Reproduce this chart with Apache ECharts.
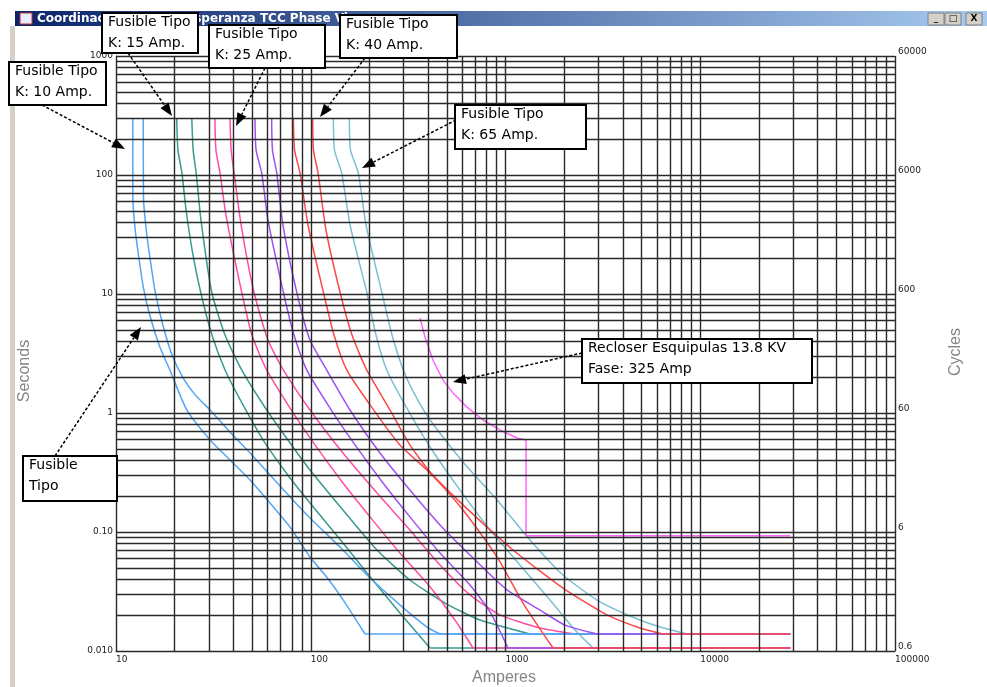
<!DOCTYPE html>
<html><head><meta charset="utf-8">
<script src="https://cdn.jsdelivr.net/npm/echarts@6/dist/echarts.min.js"></script>
<style>html,body{margin:0;padding:0;background:#fff;}#c{width:987px;height:687px;}</style>
</head><body><div id="c"></div>
<script>
// ---- tick labels ----
const ampTicks = ['10','100','1000','10000','100000'];
const secTicks = ['0.010','0.10','1','10','100','1000'];
const cycTicks = ['0.6','6','60','600','6000','60000'];

// ---- curve data (Amperes, Seconds) ----
const k6MeltA  = [12.2,12.2,12.5,13.0,13.8,15.0,16.8,18.9,23.1,30.4,38.5,48.8,61.8,78.3,99.1,120.7,146.9,190,29000];
const k6MeltS  = [300,65,36.6,22.1,11.5,6.4,3.59,2.3,1.06,0.593,0.403,0.274,0.175,0.110,0.0617,0.0419,0.0268,0.0139,0.0139];
const k6ClearA = [13.8,13.84,14.3,15.0,15.9,17.4,19.4,22.1,25.5,30.4,38.5,48.8,61.8,78.3,99.1,146.4,194.5,287,395,461,29000];
const k6ClearS = [300,65,34.5,19.3,10.4,5.49,3.07,1.97,1.42,1.06,0.692,0.461,0.301,0.197,0.131,0.0706,0.0435,0.0244,0.0159,0.0139,0.0139];

const k10MeltA  = [20.5,20.8,21.8,22.9,24.6,27.2,31.1,36.3,44.9,58.2,78.3,99.1,146.4,194.5,287,410,29000];
const k10MeltS  = [300,162,104,50.8,23.4,10.4,4.52,2.3,1.17,0.56,0.284,0.175,0.0808,0.0452,0.0209,0.0106,0.0106];
const k10ClearA = [24.5,24.9,25.8,27.3,31.0,36.3,44.2,59.4,78.3,99.1,146.4,218.9,323,489,740,1336,29000];
const k10ClearS = [300,162,104,41.9,10.4,4.52,2.3,1.06,0.56,0.332,0.153,0.0706,0.0395,0.0253,0.0182,0.0139,0.0139];

const k15MeltA  = [32.2,32.6,34.2,36.7,44.2,49.9,59.4,78.3,105.2,146.4,201.5,287,410,550,681,29000];
const k15MeltS  = [300,162,104,46.1,10.4,4.52,2.3,1.1,0.539,0.258,0.134,0.0666,0.0345,0.0182,0.0106,0.0106];
const k15ClearA = [38.5,39,40.4,43.9,51.1,60.3,72.3,99.1,146.4,218.9,323,461,657,937,1504,2275,29000];
const k15ClearS = [300,162,104,38,10.4,4.1,2.3,1.06,0.461,0.213,0.104,0.0528,0.0296,0.0201,0.0156,0.0139,0.0139];

const k25MeltA  = [51.7,52.4,56,60.3,72.3,82,95.3,125.6,168.8,235,323,461,657,833,1030,29000];
const k25MeltS  = [300,162,104,41.9,10.4,4.52,2.3,1.1,0.539,0.258,0.134,0.0666,0.0359,0.0213,0.0106,0.0106];
const k25ClearA = [63,63.6,66.9,72,84.7,99.1,120.7,159.1,226.8,323,461,657,1018,1504,2021,2951,29000];
const k25ClearS = [300,162,104,38,10.4,4.1,2.3,1.06,0.461,0.225,0.1145,0.0641,0.0326,0.0221,0.0165,0.0139,0.0139];

const k40MeltA  = [81.4,82.6,88.1,96.8,116,131.7,153,201.5,287,410,605,905,1230,1754,29000];
const k40MeltS  = [300,162,104,38,10.4,4.52,2.3,1.17,0.539,0.313,0.153,0.0617,0.0253,0.0106,0.0106];
const k40ClearA = [102.3,103.3,109,119.7,141.3,162.9,193.8,255.3,323,410,605,1093,1974,3320,4905,6438,29000];
const k40ClearS = [300,162,104,34.5,10.4,4.52,2.3,1.06,0.539,0.319,0.169,0.0706,0.0338,0.0201,0.0156,0.0139,0.0139];

const k65MeltA  = [130.6,132.4,144.2,159.1,193.8,216.3,245.5,304.8,410,584,833,1187,1692,2275,2813,29000];
const k65MeltS  = [300,162,104,38,10.4,4.52,2.3,1.17,0.518,0.225,0.104,0.0528,0.0268,0.015,0.0106,0.0106];
const k65ClearA = [157.8,160,175.5,192.2,231.4,261.4,298.8,343,410,605,905,1336,1974,2951,4359,6214,8551,29000];
const k65ClearS = [300,162,104,38,10.4,4.52,2.3,1.42,0.873,0.388,0.186,0.0857,0.0435,0.0268,0.0197,0.0159,0.0139,0.0139];

const recloserA = [364,386,424,478,538,634,767,937,1146,1275,1275,29000];
const recloserS = [6.29,4.35,2.79,1.89,1.47,1.12,0.873,0.72,0.617,0.593,0.0931,0.0931];

// ---- styles ----
const C_BLUE='#55a5f5', C_TEAL='#3a9a8e', C_PINK='#ff4fa3', C_PURPLE='#a050f5', C_RED='#ff4848', C_LTEAL='#7cc0d0', C_REC='#ff66ff';

function zip(a,s){ return a.map((v,i)=>[v,s[i]]); }
function line(name,data,color,sm){
  return {name, type:'line', data, showSymbol:false, symbol:'none', smooth:sm,
    lineStyle:{color, width:1.5}, itemStyle:{color}, z:3, silent:true, animation:false};
}
// fuse curve: smooth body + straight horizontal tail (last two points)
function fuse(name,a,s,color){
  const pts = zip(a,s);
  return [line(name,pts.slice(0,-1),color,0.2), line(name+' tail',pts.slice(-2),color,false)];
}

// grid line positions (log decades with 1..9 subdivisions)
const gridX=[], gridY=[];
for(let e=1;e<=4;e++) for(let d=1;d<=9;d++) gridX.push(d*Math.pow(10,e));
gridX.push(100000);
for(let e=-2;e<=2;e++) for(let d=1;d<=9;d++) gridY.push(+(d*Math.pow(10,e)).toPrecision(6));
gridY.push(1000);

const gridSeries = {
  type:'line', data:[], silent:true, z:1, animation:false,
  markLine:{ silent:true, symbol:['none','none'], animation:false, label:{show:false},
    emphasis:{disabled:true},
    lineStyle:{color:'#2a2a2a', width:1.4, type:'solid'},
    data: gridX.map(v=>({xAxis:v})).concat(gridY.map(v=>({yAxis:v}))) }
};

const series = [gridSeries].concat(
  fuse('K65 melt',k65MeltA,k65MeltS,C_LTEAL),
  fuse('K65 clear',k65ClearA,k65ClearS,C_LTEAL),
  fuse('K10 melt',k10MeltA,k10MeltS,C_TEAL),
  fuse('K10 clear',k10ClearA,k10ClearS,C_TEAL),
  fuse('K15 melt',k15MeltA,k15MeltS,C_PINK),
  fuse('K15 clear',k15ClearA,k15ClearS,C_PINK),
  fuse('K6 melt',k6MeltA,k6MeltS,C_BLUE),
  fuse('K6 clear',k6ClearA,k6ClearS,C_BLUE),
  fuse('K25 melt',k25MeltA,k25MeltS,C_PURPLE),
  fuse('K25 clear',k25ClearA,k25ClearS,C_PURPLE),
  fuse('K40 melt',k40MeltA,k40MeltS,C_RED),
  fuse('K40 clear',k40ClearA,k40ClearS,C_RED),
  [line('Recloser',zip(recloserA,recloserS),C_REC,false)]
);

// ---- annotations ----
const notes = [
  {box:[9,62,97,43],   lines:['Fusible Tipo','K: 10 Amp.'], from:[42,105], to:[125,149]},
  {box:[102,13,96,40], lines:['Fusible Tipo','K: 15 Amp.'], from:[128,53], to:[172,116]},
  {box:[209,25,116,43],lines:['Fusible Tipo','K: 25 Amp.'], from:[265,68], to:[236,126]},
  {box:[340,15,117,43],lines:['Fusible Tipo','K: 40 Amp.'], from:[365,58], to:[320,117]},
  {box:[455,105,131,44],lines:['Fusible Tipo','K: 65 Amp.'], from:[456,120], to:[362,168]},
  {box:[582,339,230,44],lines:['Recloser Esquipulas 13.8 KV','Fase: 325 Amp'], from:[582,353], to:[453,382]},
  {box:[23,456,94,45], lines:['Fusible','Tipo'], from:[55,456], to:[141,327]}
];

const graphics = [];
// window chrome
graphics.push({type:'rect', shape:{x:10,y:26,width:5,height:661}, style:{fill:'#d4d0c8'}, z:50, silent:true});
graphics.push({type:'rect', shape:{x:15,y:11,width:972,height:15},
  style:{fill:new echarts.graphic.LinearGradient(0,0,1,0,[{offset:0,color:'#0a246a'},{offset:1,color:'#a6caf0'}])}, z:50, silent:true});
graphics.push({type:'rect', shape:{x:20,y:13,width:12,height:11}, style:{fill:'#e8ecff',stroke:'#c03030',lineWidth:1}, z:51, silent:true});
graphics.push({type:'text', x:37, y:19, style:{text:'Coordinacion', font:'bold 12px "DejaVu Sans"', fill:'#fff', verticalAlign:'middle', textVerticalAlign:'middle'}, z:51, silent:true});
graphics.push({type:'text', x:186, y:19, style:{text:'Esperanza TCC Phase View', font:'bold 12px "DejaVu Sans"', fill:'#fff', verticalAlign:'middle', textVerticalAlign:'middle'}, z:51, silent:true});
[[928,'_'],[945,'\u25A1'],[966,'X']].forEach(([bx,g])=>{
  graphics.push({type:'rect', shape:{x:bx,y:13,width:16,height:12}, style:{fill:'#d4d0c8',stroke:'#808080',lineWidth:1}, z:51, silent:true});
  graphics.push({type:'text', x:bx+8, y:19, style:{text:g, font:'bold 9px "DejaVu Sans"', fill:'#000', align:'center', verticalAlign:'middle', textAlign:'center', textVerticalAlign:'middle'}, z:52, silent:true});
});
// axis titles
graphics.push({type:'text', x:25, y:371, rotation:Math.PI/2, style:{text:'Seconds', font:'16px "Liberation Sans"', fill:'#858585', align:'center', verticalAlign:'middle', textAlign:'center', textVerticalAlign:'middle'}, z:50, silent:true});
graphics.push({type:'text', x:956, y:352, rotation:Math.PI/2, style:{text:'Cycles', font:'16px "Liberation Sans"', fill:'#858585', align:'center', verticalAlign:'middle', textAlign:'center', textVerticalAlign:'middle'}, z:50, silent:true});
graphics.push({type:'text', x:504, y:678, style:{text:'Amperes', font:'16px "Liberation Sans"', fill:'#858585', align:'center', verticalAlign:'middle', textAlign:'center', textVerticalAlign:'middle'}, z:50, silent:true});

notes.forEach(n=>{
  const [x1,y1]=n.from, [x2,y2]=n.to;
  const ang=Math.atan2(y2-y1,x2-x1), L=13, W=5;
  const bx=x2-L*Math.cos(ang), by=y2-L*Math.sin(ang);
  const px=-Math.sin(ang)*W, py=Math.cos(ang)*W;
  graphics.push({type:'line', shape:{x1,y1,x2:bx,y2:by}, style:{stroke:'#000',lineWidth:1.5,lineDash:[3,2]}, z:100, silent:true});
  graphics.push({type:'polygon', shape:{points:[[x2,y2],[bx+px,by+py],[bx-px,by-py]]}, style:{fill:'#000'}, z:100, silent:true});
  const [rx,ry,rw,rh]=n.box;
  graphics.push({type:'rect', shape:{x:rx,y:ry,width:rw,height:rh}, style:{fill:'#fff',stroke:'#000',lineWidth:2}, z:101, silent:true});
  graphics.push({type:'text', x:rx+6, y:ry-1, style:{text:n.lines.join('\n'), font:'14px "DejaVu Sans"', fill:'#000', lineHeight:21, verticalAlign:'top', textVerticalAlign:'top'}, z:102, silent:true});
});

const chart = echarts.init(document.getElementById('c'), null, {renderer:'canvas'});
chart.setOption({
  animation:false,
  backgroundColor:'#ffffff',
  grid:{left:116, right:92, top:56, bottom:36, containLabel:false, outerBoundsMode:'none'},
  xAxis:{type:'log', logBase:10, min:10, max:100000,
    axisLine:{show:true, lineStyle:{color:'#000', width:1}}, axisTick:{show:false},
    splitLine:{show:false}, minorTick:{show:false}, minorSplitLine:{show:false},
    axisLabel:{show:true, showMinLabel:true, showMaxLabel:true, margin:4, align:'left', fontSize:9, color:'#222', fontFamily:'DejaVu Sans',
      formatter:v=>ampTicks[Math.round(Math.log10(v))-1]}},
  yAxis:[
    {type:'log', logBase:10, min:0.01, max:1000,
      axisLine:{show:true, lineStyle:{color:'#000', width:1}}, axisTick:{show:false},
      splitLine:{show:false}, minorTick:{show:false}, minorSplitLine:{show:false},
      axisLabel:{show:true, showMinLabel:true, showMaxLabel:true, margin:3, fontSize:9, color:'#222', fontFamily:'DejaVu Sans',
        formatter:v=>secTicks[Math.round(Math.log10(v))+2]}},
    {type:'value', min:0, max:5, interval:1, position:'right',
      axisLine:{show:false}, axisTick:{show:false}, splitLine:{show:false},
      axisLabel:{show:true, showMinLabel:true, showMaxLabel:true, margin:3, fontSize:9, color:'#222', fontFamily:'DejaVu Sans', verticalAlign:'bottom',
        formatter:v=>cycTicks[Math.round(v)]}}
  ],
  series,
  graphic:graphics
});
</script>
</body></html>
